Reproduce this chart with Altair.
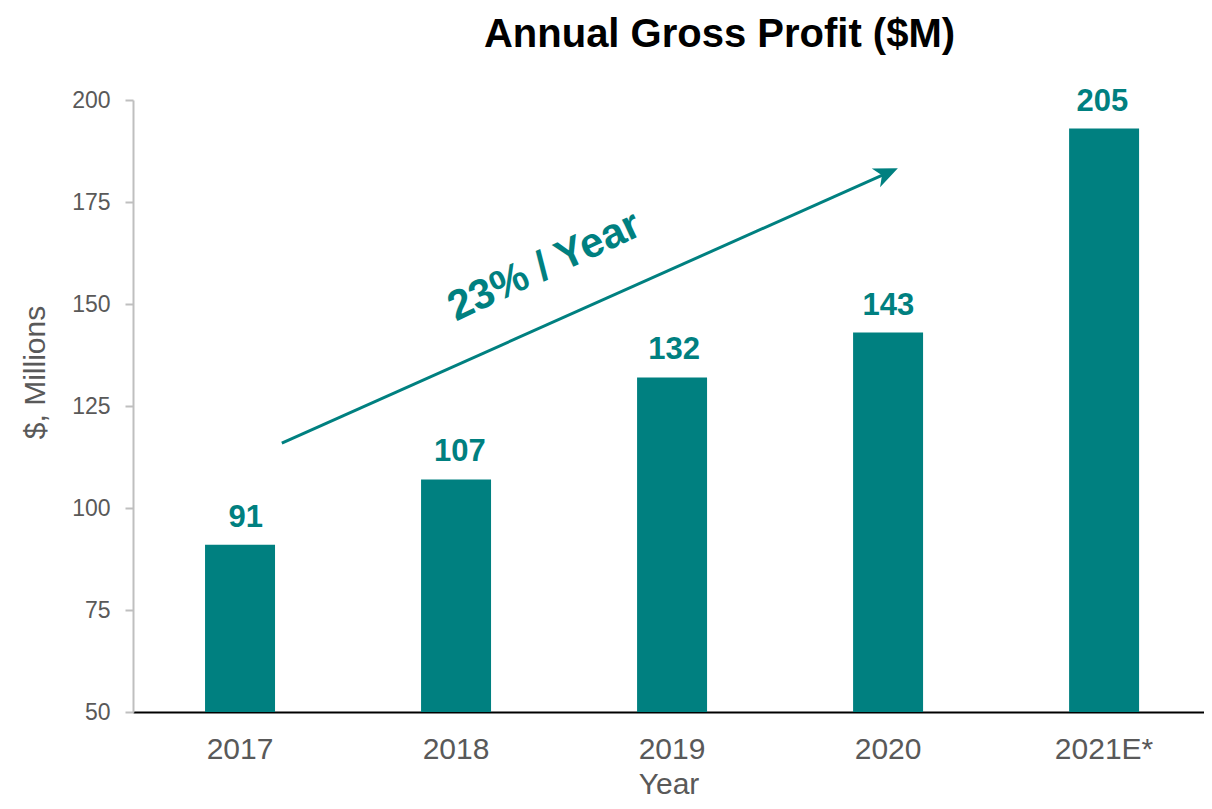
import altair as alt
import pandas as pd

# ---- data ----
years = ["2017", "2018", "2019", "2020", "2021E*"]
bar_values = [91, 107, 132, 143, 193]          # drawn bar heights ($M)
label_texts = ["91", "107", "132", "143", "205"]  # printed value labels

# annotation arrow, in (bar-index, $M) coordinates
arrow_x = [0.194, 2.995]
arrow_y = [115.9, 182.1]
arrow_text = ["23% / Year"]
arrow_text_x = [1.409]
arrow_text_y = [159.3]

TEAL = "#008080"
GRAY = "#595959"
W, H = 1071, 612

bars_df = pd.DataFrame({"year": years, "value": bar_values, "label": label_texts})
arrow_df = pd.DataFrame({"ix": arrow_x, "v": arrow_y})
head_df = pd.DataFrame({"ix": [arrow_x[-1]], "v": [arrow_y[-1]]})
txt_df = pd.DataFrame({"ix": arrow_text_x, "v": arrow_text_y, "t": arrow_text})

yscale = alt.Scale(domain=[50, 200], nice=False, zero=False)
xband = alt.Scale(paddingInner=0.676, paddingOuter=0.317, align=0.526)
xq = alt.Scale(domain=[-0.495, 4.463], nice=False, zero=False)

base = alt.Chart(bars_df)

bars = base.mark_bar(color=TEAL, clip=True).encode(
    x=alt.X("year:N", sort=years, scale=xband,
            axis=alt.Axis(title="Year", labelAngle=0, labelFontSize=30, labelColor=GRAY,
                          labelPadding=22, ticks=False, domainColor="black", domainWidth=2,
                          titleFontSize=30, titleColor=GRAY, titleFontWeight="normal",
                          titleY=81, titleBaseline="alphabetic", grid=False)),
    y=alt.Y("value:Q", scale=yscale,
            axis=alt.Axis(title="$, Millions", values=[50, 75, 100, 125, 150, 175, 200],
                          labelFontSize=23, labelColor=GRAY, labelPadding=15,
                          tickSize=8, tickColor="#bfbfbf", tickWidth=2,
                          domainColor="#bfbfbf", domainWidth=2, grid=False,
                          titleFontSize=30, titleColor=GRAY, titleFontWeight="normal",
                          titleAngle=270, titleX=-98, titleY=272, titleAlign="center",
                          titleBaseline="middle")),
    y2=alt.datum(50),
)

labels = base.mark_text(color=TEAL, fontSize=31, fontWeight="bold", baseline="alphabetic",
                        dy=-18).encode(
    x=alt.X("year:N", sort=years, scale=xband, axis=None),
    y=alt.Y("value:Q", scale=yscale),
    text="label:N",
)

arrow = alt.Chart(arrow_df).mark_line(color=TEAL, strokeWidth=3).encode(
    x=alt.X("ix:Q", scale=xq, axis=None),
    y=alt.Y("v:Q", scale=yscale),
)

head = alt.Chart(head_df).mark_point(
    shape="M1,0 L-1,-0.85 L-0.45,0 L-1,0.85 Z", filled=True, size=576, angle=336,
    color=TEAL, opacity=1, strokeWidth=0,
).encode(
    x=alt.X("ix:Q", scale=xq, axis=None),
    y=alt.Y("v:Q", scale=yscale),
)

growth = alt.Chart(txt_df).mark_text(color=TEAL, fontSize=42, fontWeight="bold", angle=335,
                                     align="center", baseline="middle").encode(
    x=alt.X("ix:Q", scale=xq, axis=None),
    y=alt.Y("v:Q", scale=yscale),
    text="t:N",
)

chart = (
    alt.layer(bars, labels, arrow, head, growth)
    .resolve_scale(x="independent")
    .properties(
        width=W, height=H,
        title=alt.TitleParams("Annual Gross Profit ($M)", fontSize=40, fontWeight="bold",
                              color="black", anchor="middle", dx=51, offset=31),
        autosize=alt.AutoSizeParams(type="none"),
        padding={"left": 125, "top": 92, "right": 0, "bottom": 89},
    )
    .configure(font="Liberation Sans")
    .configure_view(stroke=None)
)

chart.save("out.html", embed_options={"renderer": "svg", "actions": False})
